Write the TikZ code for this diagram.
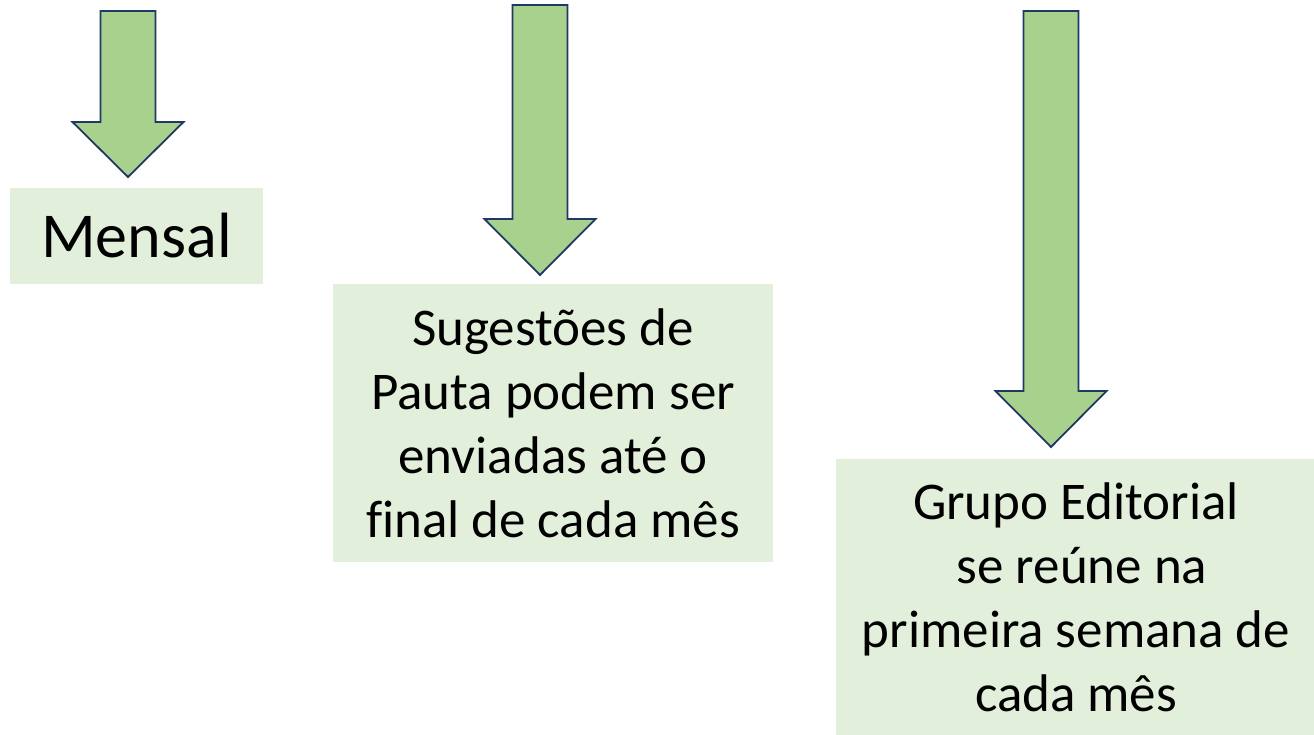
\documentclass[tikz,border=0pt]{standalone}
\usepackage{fontspec}
\setmainfont{Carlito}[Ligatures=CommonOff]
\usepackage{tikz}
\usetikzlibrary{positioning,calc}

\definecolor{arrowgreen}{HTML}{A9D18E}
\definecolor{arrowline}{HTML}{203864}
\definecolor{boxgreen}{HTML}{E2EFDA}

\tikzset{
  stagebox/.style={fill=boxgreen, align=center, inner sep=0pt, font=\fontsize{53}{64}\selectfont},
  blockarrow/.style={fill=arrowgreen, draw=arrowline, line width=1.8pt, line join=miter}
}

\begin{document}
\begin{tikzpicture}[x = 1pt, y = -1pt]
    \useasboundingbox (0,0) rectangle (1314,735);
    % boxes
    \node[stagebox, minimum width=253pt, minimum height=96pt, font=\fontsize{64}{76}\selectfont] (mensal) at (136.5,236) {Mensal};
    \node[stagebox, minimum width=440pt, minimum height=278pt] (pauta) at (553,423) {Sugestões de\\Pauta podem ser\\enviadas até o\\final de cada mês};
    \node[stagebox, minimum width=480pt, minimum height=276pt] (grupo) at (1076,597) {Grupo Editorial\\\ se reúne na\\primeira semana de\\cada mês};
    % block arrows: centre x / top / head base / tip
    \foreach \cx/\top/\base/\tip in {128/11/122/177, 540/5/219/275, 1051/11/391/447}
        \draw[blockarrow] (\cx-27.5,\top) -- (\cx+27.5,\top) -- (\cx+27.5,\base) -- (\cx+55.5,\base)
            -- (\cx,\tip) -- (\cx-55.5,\base) -- (\cx-27.5,\base) -- cycle;
\end{tikzpicture}
\end{document}
